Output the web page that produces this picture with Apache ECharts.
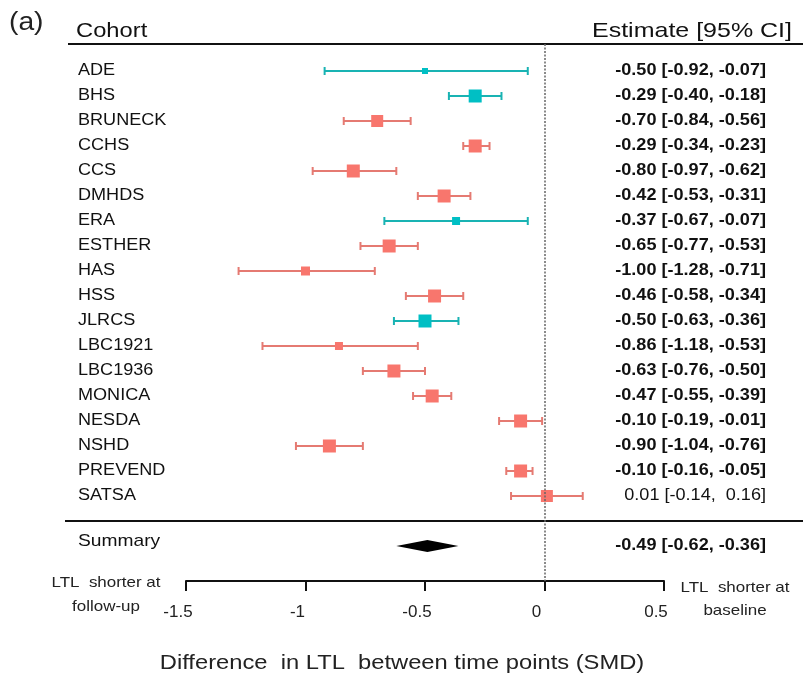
<!DOCTYPE html>
<html>
<head>
<meta charset="utf-8">
<script src="https://cdn.jsdelivr.net/npm/echarts@6/dist/echarts.min.js"></script>
<style>
  html, body { margin: 0; padding: 0; background: #fff; }
  #chart { width: 803px; height: 684px; }
</style>
</head>
<body>
<div id="chart"></div>
<script>
const cohorts = ["ADE", "BHS", "BRUNECK", "CCHS", "CCS", "DMHDS", "ERA", "ESTHER", "HAS",
  "HSS", "JLRCS", "LBC1921", "LBC1936", "MONICA", "NESDA", "NSHD", "PREVEND", "SATSA"];
const estimates = [-0.50, -0.29, -0.70, -0.29, -0.80, -0.42, -0.37, -0.65, -1.00,
  -0.46, -0.50, -0.86, -0.63, -0.47, -0.10, -0.90, -0.10, 0.01];
const lowerCI = [-0.92, -0.40, -0.84, -0.34, -0.97, -0.53, -0.67, -0.77, -1.28,
  -0.58, -0.63, -1.18, -0.76, -0.55, -0.19, -1.04, -0.16, -0.14];
const upperCI = [-0.07, -0.18, -0.56, -0.23, -0.62, -0.31, -0.07, -0.53, -0.71,
  -0.34, -0.36, -0.53, -0.50, -0.39, -0.01, -0.76, -0.05, 0.16];
// relative study weight -> box size
const boxSize = [6, 13, 12, 13, 13, 13, 8, 13, 9, 13, 13, 8, 13, 13, 13, 13, 13, 12];
// 1 = teal group, 0 = salmon group
const group = [1, 1, 0, 0, 0, 0, 1, 0, 0, 0, 1, 0, 0, 0, 0, 0, 0, 0];
const summary = { est: -0.49, lower: -0.62, upper: -0.36 };
const xTicks = { min: -1.5, max: 0.5, interval: 0.5 };

const colors = [
  { box: "#F8766D", line: "#E57A72" },
  { box: "#00BFC4", line: "#19B3B3" }
];
const FONT = "Liberation Sans, Arial, sans-serif";
const STRETCH = 1.13; // the original text is drawn a bit wide

const fmt = v => (v < 0 ? "-" : "") + Math.abs(v).toFixed(2);
const fmtCI = (e, l, u) => fmt(e) + " [" + fmt(l) + ", " + (u >= 0 ? " " : "") + fmt(u) + "]";

const rows = cohorts.map((c, i) => [lowerCI[i], upperCI[i], estimates[i], i, boxSize[i], group[i]]);
const SUMMARY_ROW = 19;

function label(text, x, y, opts) {
  return Object.assign({
    type: "text", x: x, y: y, scaleX: STRETCH,
    style: Object.assign({ text: text, fill: "#111", fontSize: 16, fontFamily: FONT,
      align: "left", verticalAlign: "middle" }, opts || {})
  });
}

const chart = echarts.init(document.getElementById("chart"));

const option = {
  animation: false,
  textStyle: { fontFamily: FONT },
  grid: { left: 186, right: 139, top: 44, bottom: 103 },
  xAxis: {
    type: "value",
    min: xTicks.min,
    max: xTicks.max,
    interval: xTicks.interval,
    axisLine: { show: true, onZero: false, lineStyle: { color: "#111", width: 2 } },
    axisTick: { show: true, inside: false, length: 10, lineStyle: { color: "#111", width: 2 } },
    axisLabel: { color: "#222", fontSize: 17, margin: 23, padding: [0, 16, 0, 0] },
    splitLine: { show: false }
  },
  yAxis: {
    type: "value",
    inverse: true,
    min: -1.08,
    max: 20.4,
    show: false,
    splitLine: { show: false }
  },
  series: [
    {
      type: "custom",
      name: "cohorts",
      clip: false,
      data: rows,
      encode: { x: [0, 1, 2], y: 3 },
      renderItem(params, api) {
        const row = api.value(3);
        const lo = api.coord([api.value(0), row]);
        const hi = api.coord([api.value(1), row]);
        const mid = api.coord([api.value(2), row]);
        const s = api.value(4);
        const c = colors[api.value(5)];
        const idx = params.dataIndex;
        const cap = 4;
        return {
          type: "group",
          children: [
            { type: "line", shape: { x1: lo[0], y1: mid[1], x2: hi[0], y2: mid[1] },
              style: { stroke: c.line, lineWidth: 2 } },
            { type: "line", shape: { x1: lo[0], y1: mid[1] - cap, x2: lo[0], y2: mid[1] + cap },
              style: { stroke: c.line, lineWidth: 2 } },
            { type: "line", shape: { x1: hi[0], y1: mid[1] - cap, x2: hi[0], y2: mid[1] + cap },
              style: { stroke: c.line, lineWidth: 2 } },
            { type: "rect", shape: { x: mid[0] - s / 2, y: mid[1] - s / 2, width: s, height: s },
              style: { fill: c.box } },
            label(cohorts[idx], 78, mid[1]),
            label(fmtCI(estimates[idx], lowerCI[idx], upperCI[idx]), 766, mid[1], {
              align: "right", fontWeight: idx === cohorts.length - 1 ? "normal" : "bold"
            })
          ]
        };
      },
      markLine: {
        silent: true,
        symbol: "none",
        label: { show: false },
        lineStyle: { color: "#666", type: [2, 1.5], width: 1.5 },
        data: [{ xAxis: 0 }]
      },
      z: 3
    },
    {
      type: "custom",
      name: "summary",
      clip: false,
      data: [[summary.lower, summary.upper, summary.est, SUMMARY_ROW]],
      encode: { x: [0, 1, 2], y: 3 },
      renderItem(params, api) {
        const row = api.value(3);
        const lo = api.coord([api.value(0), row]);
        const hi = api.coord([api.value(1), row]);
        const mid = api.coord([api.value(2), row]);
        const h = 6;
        return {
          type: "group",
          children: [
            { type: "polygon",
              shape: { points: [[lo[0], mid[1]], [mid[0], mid[1] - h], [hi[0], mid[1]], [mid[0], mid[1] + h]] },
              style: { fill: "#000" } },
            label("Summary", 78, mid[1] - 5, { fontSize: 17 }),
            label(fmtCI(summary.est, summary.lower, summary.upper), 766, mid[1],
              { align: "right", fontWeight: "bold" })
          ]
        };
      }
    }
  ],
  graphic: [
    label("(a)", 9, 23, { fontSize: 25, fill: "#222" }),
    label("Cohort", 76, 31, { fontSize: 21 }),
    Object.assign(label("Estimate [95% CI]", 792, 31, { fontSize: 21, align: "right" }), { scaleX: 1.19 }),
    { type: "line", shape: { x1: 68, y1: 44, x2: 803, y2: 44 },
      style: { stroke: "#111", lineWidth: 2 } },
    { type: "line", shape: { x1: 65, y1: 521, x2: 803, y2: 521 },
      style: { stroke: "#111", lineWidth: 2 } },
    label("LTL  shorter at\nfollow-up", 106, 595, { fontSize: 15, lineHeight: 24, fill: "#222", align: "center" }),
    label("LTL  shorter at\nbaseline", 735, 599, { fontSize: 15, lineHeight: 23, fill: "#222", align: "center" }),
    label("Difference  in LTL  between time points (SMD)", 402, 663, { fontSize: 21, fill: "#222", align: "center" })
  ]
};

chart.setOption(option);
</script>
</body>
</html>
